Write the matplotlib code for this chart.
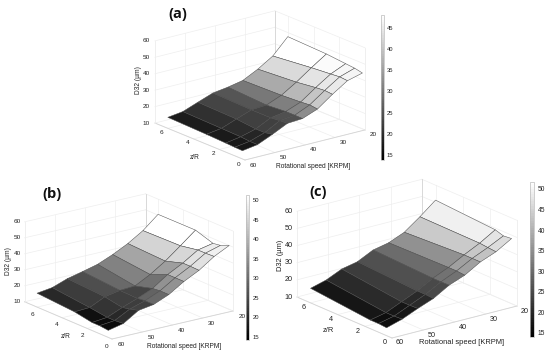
import numpy as np
import matplotlib
matplotlib.use("Agg")
import matplotlib.pyplot as plt
from matplotlib.cm import ScalarMappable
from matplotlib.colors import Normalize
from mpl_toolkits.mplot3d import proj3d

W, H = 550, 355

RPM = [60, 55, 50, 45, 40, 35, 30, 25, 20]
RPM_TICKS = [60, 50, 40, 30, 20]
ZR_TICKS = [0, 2, 4, 6]
D32_TICKS = [10, 20, 30, 40, 50, 60]

ZR_A = [0.2, 0.8, 1.5, 3, 6]
D32_A_0 = [15, 16.4, 20.4, 24.8, 25.4, 28.9, 35.6, 41.6, 44]
D32_A_1 = [15.2, 16.5, 19.5, 24.5, 25.5, 29.5, 36, 42, 45]
D32_A_2 = [15.5, 17, 19.5, 24, 25.5, 29, 35.5, 41.5, 45.5]
D32_A_3 = [16, 17.3, 20.7, 24, 24.6, 28.3, 34, 40.5, 46.6]
D32_A_4 = [16.7, 17.9, 21.3, 24.6, 25.9, 27.7, 32.3, 38, 47.5]

ZR_B = [0.3, 1, 1.6, 3, 6]
D32_B_0 = [14.4, 16.5, 22.5, 24, 28, 34, 38.8, 45.3, 50]
D32_B_1 = [15, 16, 21, 24, 28, 34, 39, 45, 47.7]
D32_B_2 = [15, 16, 20, 23.5, 27.5, 34, 39, 45, 47]
D32_B_3 = [17, 17.5, 22, 23.8, 24.4, 29.4, 35.6, 43, 50.6]
D32_B_4 = [18.7, 20, 23.4, 25.6, 28, 31.9, 36.6, 42.5, 50.5]

ZR_C = [0.4, 1, 1.6, 6]
D32_C_0 = [14.6, 17.3, 21.2, 24.7, 30.1, 33.6, 39, 42.6, 48]
D32_C_1 = [15, 17, 21, 25, 30, 34, 39, 43, 47.5]
D32_C_2 = [15, 17, 21, 25, 30, 34, 39, 43.5, 49]
D32_C_3 = [18.5, 21, 25.1, 27, 31.5, 33.4, 37.2, 43.9, 51.3]

CB_TICKS_A = [15, 20, 25, 30, 35, 40, 45]
CB_TICKS_BC = [15, 20, 25, 30, 35, 40, 45, 50]

# grey level of a surface cell against its D32 value, as seen in the picture
SHADE_Z_A = [15, 17.9, 21.3, 24.6, 25.9, 27.7, 32.3, 38, 47.5]
SHADE_G_A = [18, 28, 48, 68, 85, 120, 170, 218, 255]
SHADE_Z_B = [15, 17.5, 20, 23.4, 25.6, 28, 31.9, 36.6, 42.5, 50.5]
SHADE_G_B = [10, 16, 40, 60, 78, 105, 130, 165, 212, 255]
SHADE_Z_C = [15, 17, 21, 25.1, 27, 31.5, 33.4, 37.2, 43.9, 51.3]
SHADE_G_C = [8, 14, 22, 42, 60, 80, 108, 145, 202, 240]

plt.rcParams["font.family"] = ["Liberation Sans", "DejaVu Sans"]
fig = plt.figure(figsize=(W / 100, H / 100), dpi=100)
cmap = plt.get_cmap("gray", 64)
TXT = "#222222"


def project(ax, x, y, z):
    xs, ys, _ = proj3d.proj_transform(x, y, z, ax.get_proj())
    return xs, ys


def fit(ax, p_front, p_right):
    """Place the 3D box so its front and right floor corners land on given pixels."""
    side = 300.0
    l, b = 100.0, 20.0
    for _ in range(4):
        ax.set_position([l / W, b / H, side / W, side / H])
        ax.apply_aspect()
        f = ax.transData.transform(project(ax, 60, 0, 10))
        r = ax.transData.transform(project(ax, 20, 0, 10))
        cur = np.hypot(*(r - f))
        tgt = np.hypot(p_right[0] - p_front[0], p_right[1] - p_front[1])
        k = tgt / cur
        u = (f[0] - l) / side, (f[1] - b) / side
        side *= k
        l = p_front[0] - u[0] * side
        b = (H - p_front[1]) - u[1] * side
    ax.set_position([l / W, b / H, side / W, side / H])
    ax.apply_aspect()


def panel(zr, rows, shade_z, shade_g, elev, azim, aspect, front, right, clim, cb_box, cb_ticks,
          title, title_xy, zlab_xy, rlab_xy, dlab_xy, fs, lfs, off_z, off_q, off_r):
    ax = fig.add_subplot(projection="3d", proj_type="ortho")
    ax.set_box_aspect(aspect)
    ax.view_init(elev=elev, azim=azim)
    ax.set_xlim(60, 20, view_margin=0)
    ax.set_ylim(0, 7, view_margin=0)
    ax.set_zlim(10, 60, view_margin=0)
    ax.set_axis_off()
    ax.patch.set_alpha(0)
    fit(ax, front, right)

    grid = dict(color="#eeeeee", lw=0.5, zorder=0)
    edge = dict(color="#d5d5d5", lw=0.6, zorder=0)
    for r in RPM_TICKS:
        ax.plot([r, r], [0, 7], [10, 10], **grid)
        ax.plot([r, r], [7, 7], [10, 60], **grid)
    for q in ZR_TICKS:
        ax.plot([60, 20], [q, q], [10, 10], **grid)
        ax.plot([20, 20], [q, q], [10, 60], **grid)
    for d in D32_TICKS:
        ax.plot([60, 20], [7, 7], [d, d], **grid)
        ax.plot([20, 20], [0, 7], [d, d], **grid)
    ax.plot([60, 20], [0, 0], [10, 10], **edge)
    ax.plot([60, 60], [0, 7], [10, 10], **edge)
    ax.plot([60, 60], [7, 7], [10, 60], **grid)
    ax.plot([20, 20], [0, 0], [10, 60], **grid)
    ax.plot([20, 20], [7, 7], [10, 60], **edge)

    X, Y = np.meshgrid(zr, RPM)
    Z = np.array(rows).T
    norm = Normalize(*clim)
    grey = np.interp(Z, shade_z, shade_g) / 255.0
    fc = np.ones(Z.shape + (4,))
    fc[:-1, :-1, :3] = grey[1:, 1:, None]
    ax.plot_surface(Y, X, Z, facecolors=fc, rstride=1, cstride=1, shade=False,
                    edgecolor="#4a4a4a", linewidth=0.35, antialiased=True)

    def lab(x, y, z, off, s):
        ax.annotate(s, xy=project(ax, x, y, z), xytext=off, textcoords="offset pixels",
                    ha="center", va="center", fontsize=fs, color=TXT, annotation_clip=False)

    for d in D32_TICKS:
        lab(60, 7, d, off_z, str(d))
    for q in ZR_TICKS:
        lab(60, q, 10, off_q, str(q))
    for r in RPM_TICKS:
        lab(r, 0, 10, off_r, str(r))

    def ftext(xy, s, **kw):
        fig.text(xy[0] / W, 1 - xy[1] / H, s, ha="center", va="center", color=TXT, **kw)

    ftext(zlab_xy, "z/R", fontsize=lfs)
    ftext(rlab_xy, "Rotational speed [KRPM]", fontsize=lfs)
    ftext(dlab_xy, "D32 (µm)", fontsize=lfs, rotation=90)
    fig.text(title_xy[0] / W, 1 - title_xy[1] / H, title, ha="center", va="center",
             fontsize=10.5, fontweight="bold", family="Open Sans", color="#111111")

    x0, y0, x1, y1 = cb_box
    cax = fig.add_axes([x0 / W, 1 - y1 / H, (x1 - x0) / W, (y1 - y0) / H])
    cb = fig.colorbar(ScalarMappable(norm=norm, cmap=cmap), cax=cax, ticks=cb_ticks)
    cb.ax.tick_params(labelsize=fs - 0.4, length=0, pad=2.5, labelcolor=TXT)
    cb.outline.set_edgecolor("#bbbbbb")
    cb.outline.set_linewidth(0.5)


panel(ZR_A, [D32_A_0, D32_A_1, D32_A_2, D32_A_3, D32_A_4], SHADE_Z_A, SHADE_G_A,
      18.7, -128, (152, 146, 86.6),
      (245, 160), (365, 130), (13.8, 48), (380.5, 15, 383.5, 160), CB_TICKS_A,
      "(a)", (178, 14), (195, 157), (313, 167), (138, 80), 4.6, 4.75, (-9, 0), (-6, -4), (8, -5))

panel(ZR_B, [D32_B_0, D32_B_1, D32_B_2, D32_B_3, D32_B_4], SHADE_Z_B, SHADE_G_B,
      18.3, -126.4, (150, 147, 84),
      (112, 339), (233, 311), (14.2, 51.3), (245.5, 195, 249, 340), CB_TICKS_BC,
      "(b)", (52, 194), (66, 336), (184, 346), (9, 261), 4.6, 4.75, (-7, 0), (-5, -7), (9, -6))

panel(ZR_C, [D32_C_0, D32_C_1, D32_C_2, D32_C_3], SHADE_Z_C, SHADE_G_C,
      19.4, -127.6, (158, 156, 91),
      (392, 338), (517, 306), (14, 51.7), (530, 182, 534, 337), CB_TICKS_BC,
      "(c)", (318, 192), (328, 330), (462, 343), (281, 255), 5.2, 5.4, (-8, 0), (-7, -5), (8, -5))

fig.savefig("out.png", dpi=100, facecolor="white")
